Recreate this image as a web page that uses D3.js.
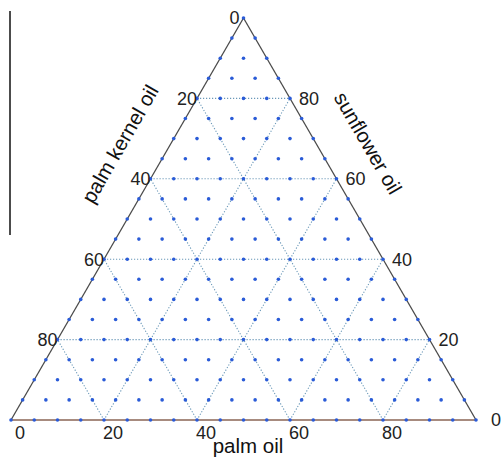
<!DOCTYPE html>
<html>
<head>
<meta charset="utf-8">
<script src="https://cdn.jsdelivr.net/npm/d3@7"></script>
<style>
  body { margin: 0; background: #fff; }
  svg { display: block; font-family: "Liberation Sans", Arial, sans-serif; }
</style>
</head>
<body>
<svg id="chart" width="502" height="458"></svg>
<script>
// ternary axes: palm oil (bottom), palm kernel oil (left), sunflower oil (right)
const axisNames = ['palm oil', 'palm kernel oil', 'sunflower oil']
const tickValues = [0, 20, 40, 60, 80]
const gridValues = [20, 40, 60, 80]
const dotStep = 5

const svg = d3.select('#chart')

// x uses palm + sunflower/2, y uses sunflower share
const xScale = d3.scaleLinear().domain([0, 100]).range([11, 476])
const yScale = d3.scaleLinear().domain([0, 100]).range([420, 18])

function pt(p, s) {
    return [xScale(p + s / 2), yScale(s)]
}

// stray rule at the left of the figure
svg.append('line')
    .attr('x1', 10).attr('x2', 10)
    .attr('y1', 11).attr('y2', 235)
    .attr('stroke', '#111')
    .attr('stroke-width', 1.5)

// dotted grid
const grid = svg.append('g')
const gridLines = []
gridValues.forEach(v => {
    gridLines.push([pt(0, v), pt(100 - v, v)])          // sunflower = v
    gridLines.push([pt(v, 0), pt(v, 100 - v)])          // palm = v
    gridLines.push([pt(100 - v, 0), pt(0, 100 - v)])    // kernel = v
})
grid.selectAll('line')
    .data(gridLines)
    .enter()
    .append('line')
    .attr('x1', d => d[0][0]).attr('y1', d => d[0][1])
    .attr('x2', d => d[1][0]).attr('y2', d => d[1][1])
    .attr('stroke', '#6a98b8')
    .attr('stroke-width', 1.1)
    .attr('stroke-dasharray', '1.2,1.8')

// triangle edges
const A = pt(0, 100), BL = pt(0, 0), BR = pt(100, 0)
svg.append('line')
    .attr('x1', BL[0]).attr('y1', BL[1]).attr('x2', A[0]).attr('y2', A[1])
    .attr('stroke', '#4a4a4a').attr('stroke-width', 1.3)
svg.append('line')
    .attr('x1', BR[0]).attr('y1', BR[1]).attr('x2', A[0]).attr('y2', A[1])
    .attr('stroke', '#4a4a4a').attr('stroke-width', 1.3)
svg.append('line')
    .attr('x1', BL[0]).attr('y1', BL[1]).attr('x2', BR[0]).attr('y2', BR[1])
    .attr('stroke', '#8a6455').attr('stroke-width', 1.7)

// lattice dots
const dots = []
for (let p = 0; p <= 100; p += dotStep) {
    for (let s = 0; p + s <= 100; s += dotStep) {
        dots.push(pt(p, s))
    }
}
svg.append('g').selectAll('circle')
    .data(dots)
    .enter()
    .append('circle')
    .attr('cx', d => d[0])
    .attr('cy', d => d[1])
    .attr('r', 1.8)
    .attr('fill', '#2a5bd7')

const labels = svg.append('g')
    .attr('font-size', 18)
    .attr('fill', '#222')

// bottom: palm oil
labels.selectAll('.tb')
    .data(tickValues)
    .enter()
    .append('text')
    .attr('class', 'tb')
    .attr('x', d => pt(d, 0)[0] + 9)
    .attr('y', 439)
    .attr('text-anchor', 'middle')
    .text(d => d)

// left: palm kernel oil (0 at apex)
labels.selectAll('.tl')
    .data(tickValues)
    .enter()
    .append('text')
    .attr('class', 'tl')
    .attr('x', d => pt(0, 100 - d)[0] - (d === 0 ? 4 : 0))
    .attr('y', d => pt(0, 100 - d)[1])
    .attr('dy', '0.35em')
    .attr('text-anchor', 'end')
    .text(d => d)

// right: sunflower oil (0 at bottom right)
labels.selectAll('.tr')
    .data(tickValues)
    .enter()
    .append('text')
    .attr('class', 'tr')
    .attr('x', d => pt(100 - d, d)[0] + (d === 0 ? 15 : 9))
    .attr('y', d => pt(100 - d, d)[1])
    .attr('dy', '0.35em')
    .text(d => d)

// axis titles
const titles = svg.append('g')
    .attr('font-size', 20.5)
    .attr('fill', '#111')
    .attr('text-anchor', 'middle')

titles.append('text')
    .attr('x', 248).attr('y', 453)
    .text(axisNames[0])
titles.append('text')
    .attr('transform', 'translate(120,144) rotate(-60)')
    .attr('dy', '0.35em')
    .text(axisNames[1])
titles.append('text')
    .attr('transform', 'translate(368,143) rotate(60)')
    .attr('dy', '0.35em')
    .text(axisNames[2])
</script>
</body>
</html>
